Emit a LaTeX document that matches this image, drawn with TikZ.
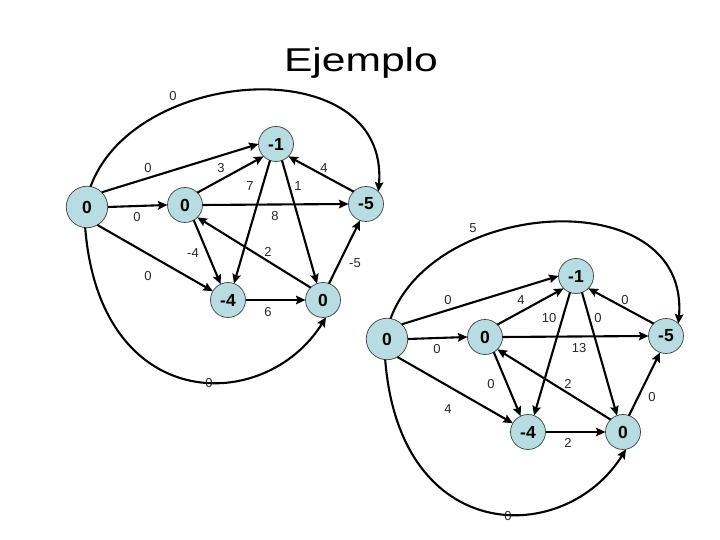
\documentclass[tikz,border=0pt]{standalone}
\usepackage{graphicx}
\usepackage{fontspec}
\setmainfont{Liberation Sans}
\definecolor{nd}{RGB}{183,221,227}
\usetikzlibrary{
  arrows.meta      % stealth tips
}
\tikzset{
    every node/.style = {
        inner sep = 0pt,
        outer sep = 0pt
    },
    vertex/.style = {
        circle,
        draw = black!75,
        line width = 0.7pt,
        fill = nd,
        minimum size = 35pt,
        font = \fontsize{17.5}{17.5}\selectfont\bfseries
    },
    src/.append style = {minimum size = 41.5pt},
    weight/.style = {font = \fontsize{13}{13}\selectfont, text = black!85},
    title/.style = {font = \fontsize{33}{33}\selectfont, anchor = base},
    link/.style = {line width = 2.1pt, -{Stealth[length=9.5pt, width=8.5pt, inset=1.5pt]}}
}

\begin{document}
\begin{tikzpicture}[x=1pt, y=1pt]
  \useasboundingbox (0,0) rectangle (720,540);

  %% title
  \node[title] (T) at (361,468.3) {\scalebox{1.29}[1]{Ejemplo}};

  %% first graph
  \node[vertex, src] (A) at (87,333) {0};
  \node[vertex] (B) at (185,335) {0};
  \node[vertex] (C) at (276,396) {-1};
  \node[vertex] (D) at (366,336) {-5};
  \node[vertex] (E) at (228,240) {-4};
  \node[vertex] (F) at (323,240) {0};

  \draw[link] (A.north east) -- (C.west);
  \draw[link] (A.east) -- (B.west);
  \draw[link] (B.north east) -- (C.south west);
  \draw[link] (B.east) -- (D.west);
  \draw[link] (D.north west) -- (C.south east);
  \draw[link] (C.250) -- (E.70);
  \draw[link] (C.290) -- (F.110);
  \draw[link] (B.300) -- (E.115);
  \draw[link] (F.north west) -- (B.south east);
  \draw[link] (F.70) -- (D.250);
  \draw[link] (A.300) -- (E.150);
  \draw[link] (E.east) -- (F.west);
  \draw[link] (A.80) .. controls (135,475) and (390,490) .. (D.45);
  \draw[link] (A.265) .. controls (100,125) and (265,125) .. (F.280);

  \node[weight] (wAC) at (148,372) {0};
  \node[weight] (wBC) at (221,372) {3};
  \node[weight] (wAB) at (137,323) {0};
  \node[weight] (wBD) at (275,324) {8};
  \node[weight] (wDC) at (324,372) {4};
  \node[weight] (wCE) at (250,354) {7};
  \node[weight] (wCF) at (298,354) {1};
  \node[weight] (wBE) at (193,287) {-4};
  \node[weight] (wFB) at (268,288) {2};
  \node[weight] (wFD) at (355,277) {-5};
  \node[weight] (wAE) at (148,264) {0};
  \node[weight] (wEF) at (268,228) {6};
  \node[weight] (wAD) at (173,444) {0};
  \node[weight] (wAF) at (209,157) {0};

  %% second graph
  \begin{scope}[shift={(300,-132)}]
    \node[vertex, src] (A2) at (87,333) {0};
    \node[vertex] (B2) at (185,335) {0};
    \node[vertex] (C2) at (276,396) {-1};
    \node[vertex] (D2) at (366,336) {-5};
    \node[vertex] (E2) at (228,240) {-4};
    \node[vertex] (F2) at (323,240) {0};

    \draw[link] (A2.north east) -- (C2.west);
    \draw[link] (A2.east) -- (B2.west);
    \draw[link] (B2.north east) -- (C2.south west);
    \draw[link] (B2.east) -- (D2.west);
    \draw[link] (D2.north west) -- (C2.south east);
    \draw[link] (C2.250) -- (E2.70);
    \draw[link] (C2.290) -- (F2.110);
    \draw[link] (B2.300) -- (E2.115);
    \draw[link] (F2.north west) -- (B2.south east);
    \draw[link] (F2.70) -- (D2.250);
    \draw[link] (A2.300) -- (E2.150);
    \draw[link] (E2.east) -- (F2.west);
    \draw[link] (A2.80) .. controls (135,475) and (390,490) .. (D2.45);
    \draw[link] (A2.265) .. controls (100,125) and (265,125) .. (F2.280);

    \node[weight] (wAC2) at (148,372) {0};
    \node[weight] (wBC2) at (221,372) {4};
    \node[weight] (wAB2) at (137,323) {0};
    \node[weight] (wBD2) at (279,324) {13};
    \node[weight] (wDC2) at (325,372) {0};
    \node[weight] (wCE2) at (249,354) {10};
    \node[weight] (wCF2) at (298,354) {0};
    \node[weight] (wBE2) at (191,288) {0};
    \node[weight] (wFB2) at (268,288) {2};
    \node[weight] (wFD2) at (352,275) {0};
    \node[weight] (wAE2) at (148,263) {4};
    \node[weight] (wEF2) at (268,229) {2};
    \node[weight] (wAD2) at (173,444) {5};
    \node[weight] (wAF2) at (208,156) {0};
  \end{scope}

\end{tikzpicture}
\end{document}
